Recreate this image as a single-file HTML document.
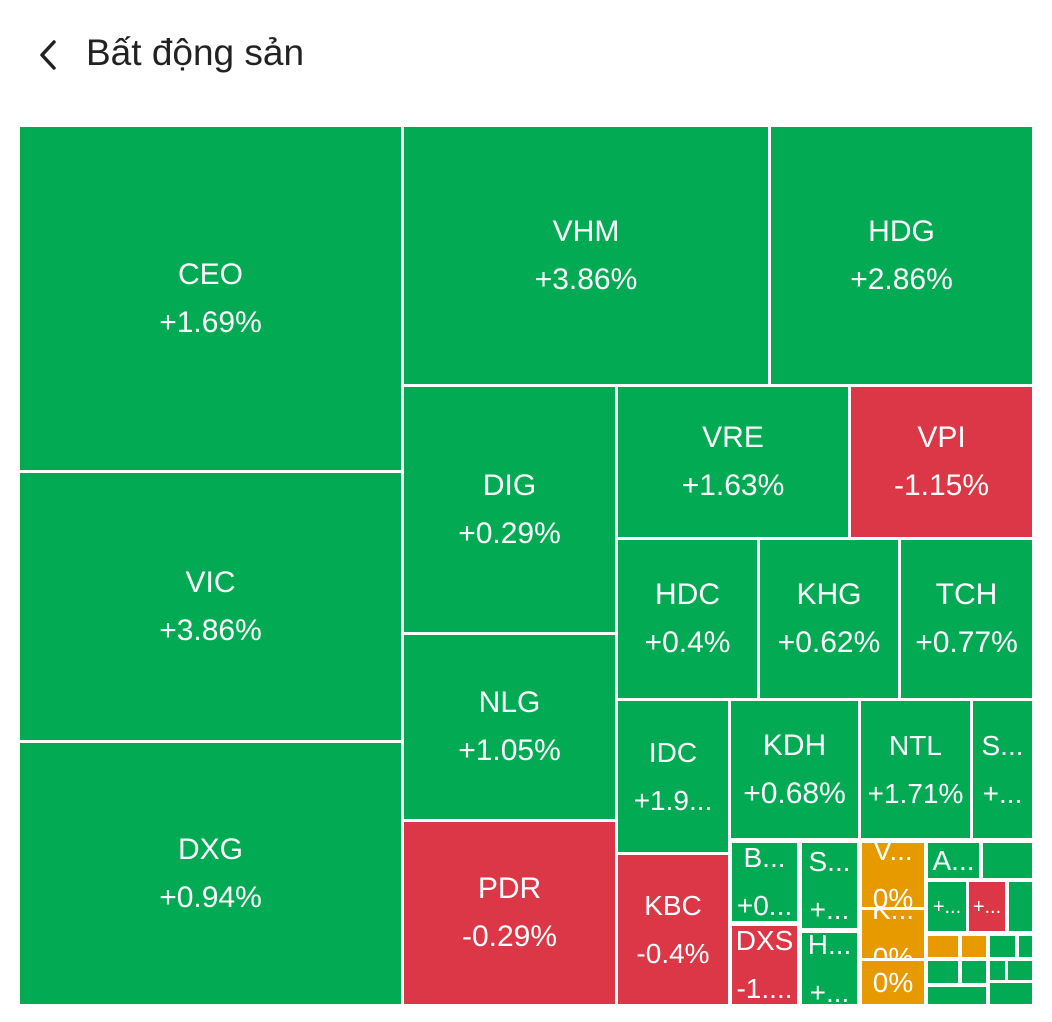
<!DOCTYPE html>
<html><head><meta charset="utf-8">
<style>
html,body{margin:0;padding:0;background:#fff;width:1052px;height:1022px;overflow:hidden;font-family:"Liberation Sans","DejaVu Sans",sans-serif;}
#hdr{position:absolute;left:0;top:0;width:1052px;height:110px;}
#title{position:absolute;left:86px;top:32px;font-size:37px;color:#222;}
#back{position:absolute;left:36px;top:38px;width:30px;height:34px;}
.t{position:absolute;box-sizing:border-box;color:#fff;display:flex;flex-direction:column;align-items:center;justify-content:center;text-align:center;overflow:hidden;font-size:30px;line-height:48px;white-space:nowrap;}
</style></head><body>
<div id="hdr">
<svg id="back" viewBox="0 0 30 34"><path d="M18 4 L6 17 L18 30" stroke="#222" stroke-width="3.5" fill="none" stroke-linecap="round" stroke-linejoin="round"/></svg>
<div id="title">Bất động sản</div>
</div>
<div id="map"></div>
<script>
const tickers=["CEO","VIC","DXG","VHM","HDG","DIG","NLG","PDR","VRE","VPI","HDC","KHG","TCH","IDC","KBC","KDH","NTL","S...","B...","DXS","S...","H...","V...","K...","","A...","","+...","+...","","","","","","","","","","",""];
const changes=["+1.69%","+3.86%","+0.94%","+3.86%","+2.86%","+0.29%","+1.05%","-0.29%","+1.63%","-1.15%","+0.4%","+0.62%","+0.77%","+1.9...","-0.4%","+0.68%","+1.71%","+...","+0...","-1....","+...","+...","0%","0%","0%","","","","","","","","","","","","","","",""];
const kinds=["g","g","g","g","g","g","g","r","g","r","g","g","g","g","r","g","g","g","g","r","g","g","o","o","o","g","g","g","r","g","o","o","g","g","g","g","g","g","g","g"];
const boxes=[[20,127,401,470],[20,473,401,740],[20,743,401,1004],[404,127,768,384],[771,127,1032,384],[404,387,615,632],[404,635,615,819],[404,822,615,1004],[618,387,848,537],[851,387,1032,537],[618,540,757,698],[760,540,898,698],[901,540,1032,698],[618,701,728,852],[618,855,728,1004],[731,701,858,838],[861,701,970,838],[973,701,1032,838],[732,843,797,921],[732,926,797,1004],[802,843,857,928],[802,933,857,1004],[862,843,924,907],[862,910,924,958],[862,961,924,1004],[928,843,979,878],[983,843,1032,878],[928,882,966,931],[969,882,1005,931],[1009,882,1032,931],[928,936,958,957],[962,936,986,957],[990,936,1015,957],[1019,936,1032,957],[928,961,958,983],[962,961,986,983],[990,961,1005,980],[1008,961,1032,980],[928,987,986,1004],[990,983,1032,1004]];
const col={g:"#02ab53",r:"#dc3746",o:"#e69a00"};
const map=document.getElementById('map');
boxes.forEach((b,i)=>{
  const d=document.createElement('div');
  d.className='t';
  
  
  d.style.background=col[kinds[i]];
  d.style.left=b[0]+'px';d.style.top=b[1]+'px';
  d.style.width=(b[2]-b[0])+'px';d.style.height=(b[3]-b[1])+'px';
  const w=b[2]-b[0];
  if(w<120)d.style.fontSize='28px';
  if(w<50)d.style.fontSize='20px';
  if(tickers[i]||changes[i])d.innerHTML='<span>'+tickers[i]+'</span><span>'+changes[i]+'</span>';
  map.appendChild(d);
});
</script>
</body></html>
